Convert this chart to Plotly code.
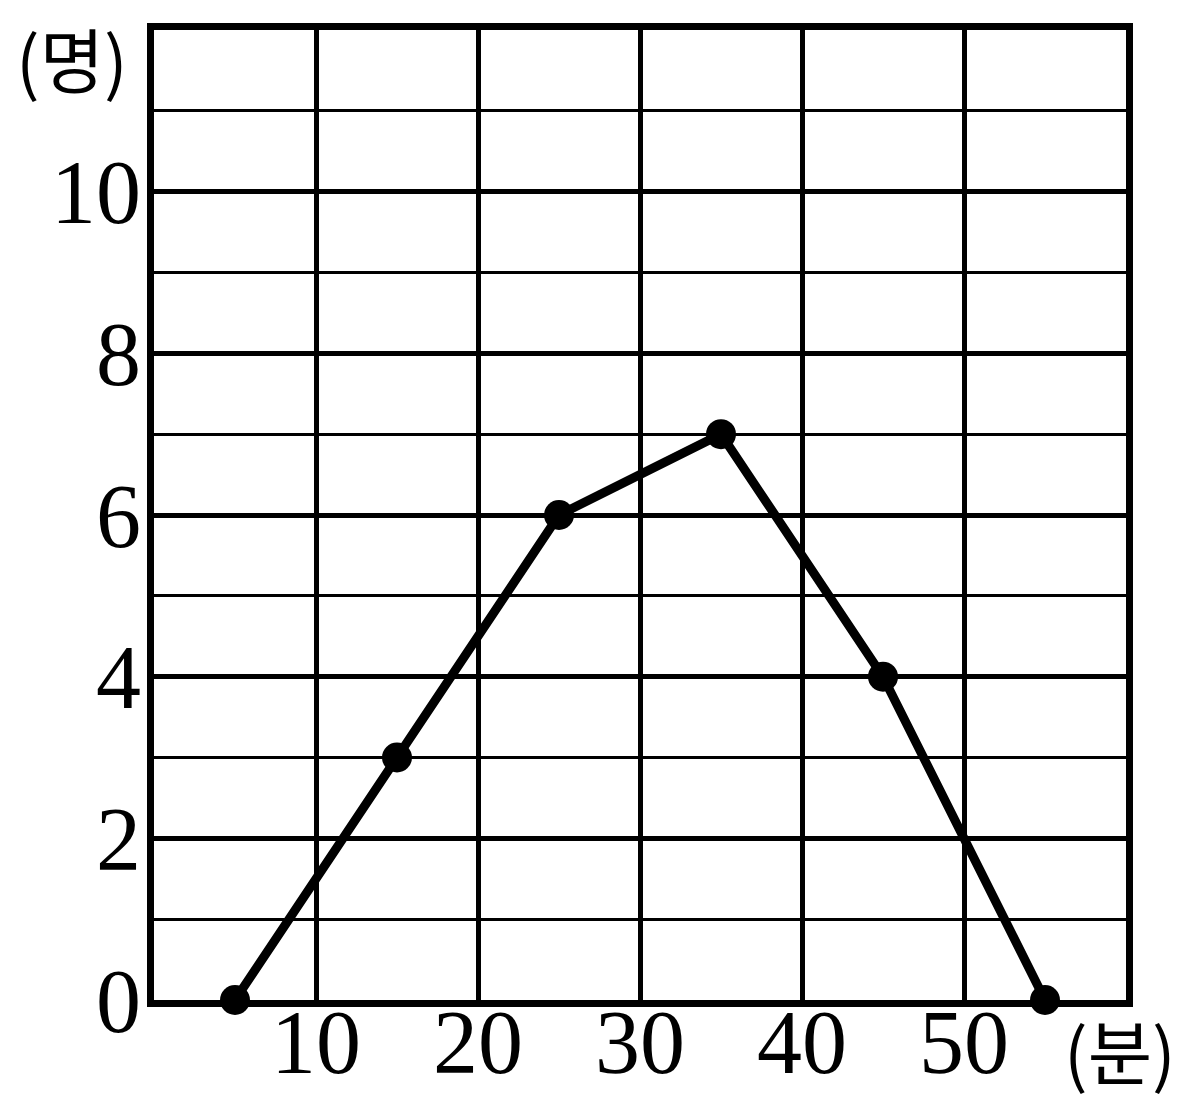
import plotly.graph_objects as go

minutes = [5, 15, 25, 35, 45, 55]
people = [0, 3, 6, 7, 4, 0]
x_ticks = [10, 20, 30, 40, 50]
x_tick_labels = ["10", "20", "30", "40", "50"]
y_ticks = [0, 2, 4, 6, 8, 10]
y_tick_labels = ["0", "2", "4", "6", "8", "10"]

# page has an 8px body margin: figure origin sits at (8, 8)
OFF = 8
W, H = 1204 - OFF, 1103 - OFF
X0, X60 = 154, 1126     # page px of x=0 and x=60
Y0, Y12 = 1000, 30      # page px of y=0 and y=12
L, T = X0 - OFF, Y12 - OFF
R = W - L - (X60 - X0)
B = H - T - (Y0 - Y12)
pw, ph = X60 - X0, Y0 - Y12

serif = "Liberation Serif, DejaVu Serif, serif"
kfont = "Noto Sans CJK KR, sans-serif"

fig = go.Figure()
fig.add_trace(go.Scatter(
    x=minutes, y=people, mode="lines+markers",
    line=dict(color="black", width=9),
    marker=dict(color="black", size=30),
    cliponaxis=False, showlegend=False,
))

fig.update_layout(
    width=W, height=H,
    margin=dict(l=L, r=R, t=T, b=B, autoexpand=False),
    paper_bgcolor="white", plot_bgcolor="white",
    xaxis=dict(
        range=[0, 60], tickvals=x_ticks, ticktext=x_tick_labels,
        showgrid=True, gridcolor="black", gridwidth=4.5,
        showline=True, linecolor="black", linewidth=7, mirror=True,
        ticks="", zeroline=False, automargin=False,
        tickfont=dict(family=serif, size=90, color="black"),
    ),
    yaxis=dict(
        range=[0, 12], tickvals=y_ticks, ticktext=y_tick_labels,
        showgrid=True, gridcolor="black", gridwidth=4.5,
        minor=dict(dtick=1, showgrid=True, gridcolor="black", gridwidth=2.5, tick0=0),
        showline=True, linecolor="black", linewidth=7, mirror=True,
        ticks="", zeroline=False, automargin=False,
        tickfont=dict(family=serif, size=90, color="black"),
    ),
    annotations=[
        dict(text="(명)", xref="paper", yref="paper",
             x=(72 - X0) / pw, y=(Y0 - 57) / ph,
             xanchor="center", yanchor="middle", showarrow=False,
             font=dict(family=kfont, size=70, color="black")),
        dict(text="(분)", xref="paper", yref="paper",
             x=(1120 - X0) / pw, y=(Y0 - 1049) / ph,
             xanchor="center", yanchor="middle", showarrow=False,
             font=dict(family=kfont, size=70, color="black")),
    ],
)

try:
    fig.update_xaxes(ticklabelstandoff=-42)
    fig.update_yaxes(ticklabelstandoff=-12)
except ValueError:
    pass

fig.write_html("out.html")
